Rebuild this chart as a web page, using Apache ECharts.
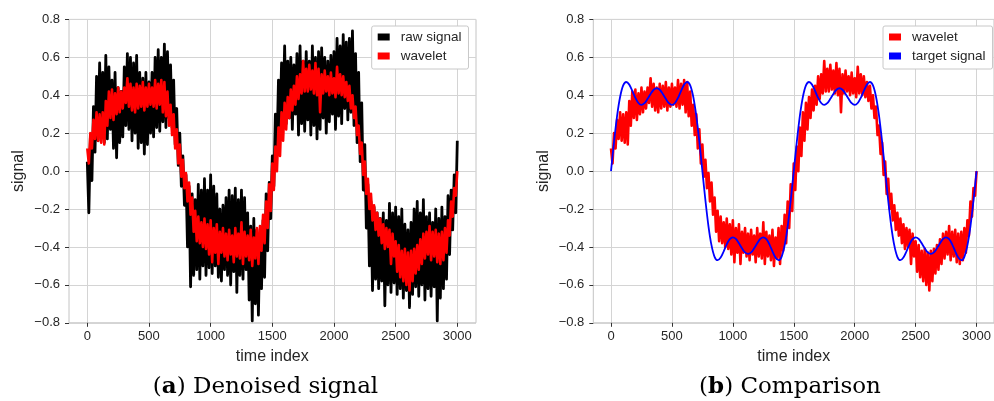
<!DOCTYPE html>
<html><head><meta charset="utf-8">
<script src="https://cdn.jsdelivr.net/npm/echarts@6/dist/echarts.min.js"></script>
<style>html,body{margin:0;padding:0;background:#fff}#c{width:994px;height:401px}</style>
</head><body><div id="c"></div>
<script>
// ---- data ----
const timeStep = 25;                 // samples at t = 0, 25, ... 3000 (upper) and midpoints (lower)
const xTickValues = [0, 500, 1000, 1500, 2000, 2500, 3000];
const yTickValues = [-0.8, -0.6, -0.4, -0.2, 0.0, 0.2, 0.4, 0.6, 0.8];

// raw signal: local maxima at t = 25*i, local minima at t = 25*i + 12.5
const rawUpper = [0.05,0.18,0.34,0.50,0.57,0.52,0.61,0.55,0.48,0.52,
 0.44,0.42,0.55,0.62,0.60,0.57,0.61,0.52,0.49,0.52,
 0.47,0.52,0.60,0.64,0.60,0.67,0.63,0.56,0.48,0.33,
 0.20,0.08,-0.02,-0.08,-0.12,-0.15,-0.07,-0.10,-0.04,-0.10,
 -0.02,-0.08,-0.12,-0.20,-0.18,-0.14,-0.10,-0.13,-0.09,-0.15,
 -0.10,-0.14,-0.22,-0.29,-0.25,-0.31,-0.33,-0.26,-0.12,-0.06,
 0.08,0.30,0.48,0.57,0.66,0.58,0.60,0.56,0.62,0.66,
 0.58,0.63,0.58,0.66,0.60,0.63,0.65,0.60,0.58,0.61,
 0.63,0.70,0.66,0.72,0.68,0.70,0.74,0.62,0.52,0.36,
 0.14,-0.07,-0.16,-0.19,-0.22,-0.25,-0.22,-0.26,-0.17,-0.22,
 -0.19,-0.24,-0.20,-0.28,-0.31,-0.27,-0.20,-0.16,-0.22,-0.15,
 -0.24,-0.22,-0.27,-0.20,-0.25,-0.19,-0.24,-0.13,-0.10,-0.02,
 0.16];
const rawLower = [-0.22,-0.05,0.10,0.16,0.19,0.15,0.17,0.22,0.12,0.07,
 0.15,0.18,0.24,0.22,0.16,0.20,0.12,0.15,0.09,0.14,
 0.20,0.18,0.23,0.21,0.26,0.23,0.28,0.23,0.14,0.03,
 -0.08,-0.18,-0.40,-0.61,-0.55,-0.52,-0.57,-0.50,-0.55,-0.51,
 -0.54,-0.50,-0.56,-0.58,-0.52,-0.55,-0.60,-0.53,-0.64,-0.55,
 -0.57,-0.52,-0.68,-0.79,-0.70,-0.76,-0.62,-0.56,-0.42,-0.25,
 -0.08,0.10,0.24,0.31,0.25,0.28,0.22,0.30,0.19,0.25,
 0.21,0.27,0.19,0.24,0.17,0.22,0.28,0.20,0.26,0.30,
 0.22,0.29,0.25,0.33,0.27,0.31,0.24,0.15,0.05,-0.10,
 -0.30,-0.50,-0.63,-0.57,-0.62,-0.58,-0.71,-0.60,-0.64,-0.59,
 -0.65,-0.62,-0.67,-0.63,-0.72,-0.65,-0.61,-0.66,-0.60,-0.68,
 -0.62,-0.66,-0.61,-0.79,-0.67,-0.62,-0.57,-0.44,-0.31,-0.22];

// wavelet (denoised) signal, same layout
const waveletUpper = [0.12,0.20,0.27,0.31,0.30,0.31,0.37,0.42,0.43,0.41,
 0.44,0.42,0.44,0.49,0.46,0.44,0.46,0.45,0.47,0.44,
 0.46,0.44,0.48,0.46,0.48,0.47,0.42,0.35,0.30,0.22,
 0.14,0.06,-0.01,-0.06,-0.14,-0.21,-0.24,-0.27,-0.25,-0.28,
 -0.26,-0.30,-0.28,-0.32,-0.30,-0.33,-0.31,-0.34,-0.30,-0.33,
 -0.27,-0.32,-0.34,-0.31,-0.35,-0.30,-0.29,-0.23,-0.16,-0.07,
 0.04,0.13,0.23,0.31,0.36,0.39,0.43,0.45,0.50,0.51,
 0.58,0.54,0.56,0.53,0.57,0.54,0.51,0.53,0.50,0.52,
 0.49,0.55,0.51,0.50,0.47,0.45,0.40,0.34,0.24,0.15,
 0.05,-0.04,-0.12,-0.18,-0.22,-0.25,-0.28,-0.30,-0.31,-0.33,
 -0.37,-0.39,-0.42,-0.41,-0.43,-0.42,-0.41,-0.39,-0.36,-0.33,
 -0.32,-0.29,-0.32,-0.31,-0.33,-0.32,-0.30,-0.26,-0.16,-0.09,
 0.00];
const waveletLower = [0.04,0.12,0.17,0.16,0.15,0.14,0.24,0.28,0.27,0.30,
 0.31,0.33,0.36,0.34,0.32,0.31,0.33,0.34,0.32,0.34,
 0.35,0.34,0.33,0.35,0.31,0.29,0.24,0.19,0.12,0.04,
 -0.03,-0.09,-0.16,-0.23,-0.32,-0.37,-0.38,-0.40,-0.41,-0.44,
 -0.48,-0.43,-0.49,-0.43,-0.45,-0.47,-0.44,-0.48,-0.45,-0.46,
 -0.49,-0.45,-0.47,-0.50,-0.46,-0.49,-0.42,-0.38,-0.30,-0.21,
 -0.10,0.00,0.08,0.16,0.22,0.28,0.32,0.35,0.38,0.41,
 0.42,0.42,0.43,0.41,0.40,0.31,0.41,0.42,0.40,0.41,
 0.39,0.41,0.40,0.39,0.37,0.33,0.28,0.19,0.09,-0.02,
 -0.12,-0.20,-0.26,-0.31,-0.34,-0.38,-0.41,-0.40,-0.49,-0.45,
 -0.53,-0.56,-0.58,-0.60,-0.63,-0.58,-0.54,-0.52,-0.49,-0.46,
 -0.44,-0.47,-0.45,-0.48,-0.49,-0.47,-0.43,-0.34,-0.24,-0.13];

// target signal at t = 0, 25, ... 3000
const targetSignal = [0,
 0.155,0.291,0.392,0.452,0.470,0.456,0.423,0.386,0.359,0.349,0.358,0.381,0.407,0.429,0.437,
 0.429,0.407,0.381,0.358,0.349,0.359,0.386,0.423,0.456,0.470,0.452,0.392,0.291,0.155,
 0,
 -0.155,-0.291,-0.392,-0.452,-0.470,-0.456,-0.423,-0.386,-0.359,-0.349,-0.358,-0.381,-0.407,-0.429,-0.437,
 -0.429,-0.407,-0.381,-0.358,-0.349,-0.359,-0.386,-0.423,-0.456,-0.470,-0.452,-0.392,-0.291,-0.155,
 0,
 0.155,0.291,0.392,0.452,0.470,0.456,0.423,0.386,0.359,0.349,0.358,0.381,0.407,0.429,0.437,
 0.429,0.407,0.381,0.358,0.349,0.359,0.386,0.423,0.456,0.470,0.452,0.392,0.291,0.155,
 0,
 -0.155,-0.291,-0.392,-0.452,-0.470,-0.456,-0.423,-0.386,-0.359,-0.349,-0.358,-0.381,-0.407,-0.429,-0.437,
 -0.429,-0.407,-0.381,-0.358,-0.349,-0.359,-0.386,-0.423,-0.456,-0.470,-0.452,-0.392,-0.291,-0.155,
 0];

// ---- build series data ----
function merge(up, lo) {
  const d = [];
  for (let i = 0; i < up.length; i++) {
    d.push([i * timeStep, up[i]]);
    if (i < lo.length) d.push([i * timeStep + timeStep / 2, lo[i]]);
  }
  return d;
}
const rawData = merge(rawUpper, rawLower);
const waveletData = merge(waveletUpper, waveletLower);
const targetData = targetSignal.map((v, i) => [i * timeStep, v]);

const SANS = 'Liberation Sans';
const TXT = '#262626';
const GRIDC = '#d4d4d4';
const xMin = xTickValues[0], xMax = xTickValues[xTickValues.length - 1], xInt = xTickValues[1] - xTickValues[0];
const yMin = yTickValues[0], yMax = yTickValues[yTickValues.length - 1];
const yInt = Math.round((yTickValues[1] - yTickValues[0]) * 10) / 10;
const fmtY = v => { if (Math.abs(v) < 1e-9) v = 0; return v.toFixed(1).replace('-', '\u2212'); };
const fmtX = v => String(Math.round(v));

const TOP = 19.4, H = 303.4;
const panels = [{frameLeft: 69, dataLeft: 87.3, legendLeft: 371.7}, {frameLeft: 593.3, dataLeft: 611, legendLeft: 883}];

const grid = [], xAxis = [], yAxis = [];
panels.forEach((p, k) => {
  grid.push({left: p.frameLeft, top: TOP, width: 407, height: H, show: true, borderColor: '#c4c4c4', borderWidth: 1, backgroundColor: 'transparent'});
  grid.push({left: p.dataLeft, top: TOP, width: 370, height: H, show: false});
  xAxis.push({gridIndex: 2 * k, type: 'value', min: 0, max: 1, show: false});
  xAxis.push({gridIndex: 2 * k + 1, type: 'value', min: xMin, max: xMax, interval: xInt, position: 'bottom',
    axisLine: {show: false, onZero: false},
    axisTick: {show: true, inside: false, length: 4, lineStyle: {color: '#333', width: 1}},
    axisLabel: {fontSize: 13, color: TXT, fontFamily: SANS, margin: 7, formatter: fmtX},
    splitLine: {show: true, lineStyle: {color: GRIDC, width: 1}},
    name: 'time index', nameLocation: 'middle', nameGap: 26,
    nameTextStyle: {fontSize: 16, color: TXT, fontFamily: SANS}});
  yAxis.push({gridIndex: 2 * k, type: 'value', min: yMin, max: yMax, interval: yInt,
    axisLine: {show: false, onZero: false},
    axisTick: {show: true, inside: false, length: 4, lineStyle: {color: '#333', width: 1}},
    axisLabel: {fontSize: 13, color: TXT, fontFamily: SANS, margin: 9, formatter: fmtY},
    splitLine: {show: true, lineStyle: {color: GRIDC, width: 1}},
    name: 'signal', nameLocation: 'middle', nameGap: 42,
    nameTextStyle: {fontSize: 16, color: TXT, fontFamily: SANS}});
  yAxis.push({gridIndex: 2 * k + 1, type: 'value', min: yMin, max: yMax, show: false});
});

const lineBase = {type: 'line', showSymbol: false, symbol: 'none', silent: true, animation: false, clip: true};
const legendBase = {orient: 'vertical', top: 26, icon: 'rect', itemWidth: 12, itemHeight: 7, itemGap: 3,
  padding: [3, 7, 5, 6], borderColor: '#c8c8c8', borderWidth: 1, borderRadius: 2, backgroundColor: '#fff',
  selectedMode: false,
  textStyle: {fontSize: 13.5, fontFamily: SANS, color: TXT, padding: [0, 0, 0, 6], lineHeight: 16}};

const chart = echarts.init(document.getElementById('c'), null, {renderer: 'canvas'});
chart.setOption({
  backgroundColor: '#fff',
  animation: false,
  grid, xAxis, yAxis,
  legend: [
    Object.assign({}, legendBase, {left: panels[0].legendLeft, data: ['raw signal', 'wavelet']}),
    Object.assign({}, legendBase, {left: panels[1].legendLeft, data: ['wavelet', 'target signal']})
  ],
  series: [
    Object.assign({}, lineBase, {name: 'raw signal', xAxisIndex: 1, yAxisIndex: 1, data: rawData, color: '#000', lineStyle: {color: '#000', width: 2.8, join: 'round'}}),
    Object.assign({}, lineBase, {name: 'wavelet', xAxisIndex: 1, yAxisIndex: 1, data: waveletData, color: '#ff0000', lineStyle: {color: '#ff0000', width: 2.6, join: 'round'}}),
    Object.assign({}, lineBase, {name: 'wavelet', xAxisIndex: 3, yAxisIndex: 3, data: waveletData, color: '#ff0000', lineStyle: {color: '#ff0000', width: 2.6, join: 'round'}}),
    Object.assign({}, lineBase, {name: 'target signal', xAxisIndex: 3, yAxisIndex: 3, data: targetData, smooth: 0.3, color: '#0000ff', lineStyle: {color: '#0000ff', width: 1.8}})
  ],
  graphic: [
    {type: 'text', x: 265.5, y: 387, silent: true, style: {text: '({b|a}) Denoised signal', fill: '#000', fontFamily: 'DejaVu Serif', fontSize: 23, align: 'center', verticalAlign: 'middle',
      rich: {b: {fontWeight: 'bold', fontFamily: 'DejaVu Serif', fontSize: 23, fill: '#000'}}}},
    {type: 'text', x: 790, y: 387, silent: true, style: {text: '({b|b}) Comparison', fill: '#000', fontFamily: 'DejaVu Serif', fontSize: 23, align: 'center', verticalAlign: 'middle',
      rich: {b: {fontWeight: 'bold', fontFamily: 'DejaVu Serif', fontSize: 23, fill: '#000'}}}}
  ]
});
</script></body></html>
